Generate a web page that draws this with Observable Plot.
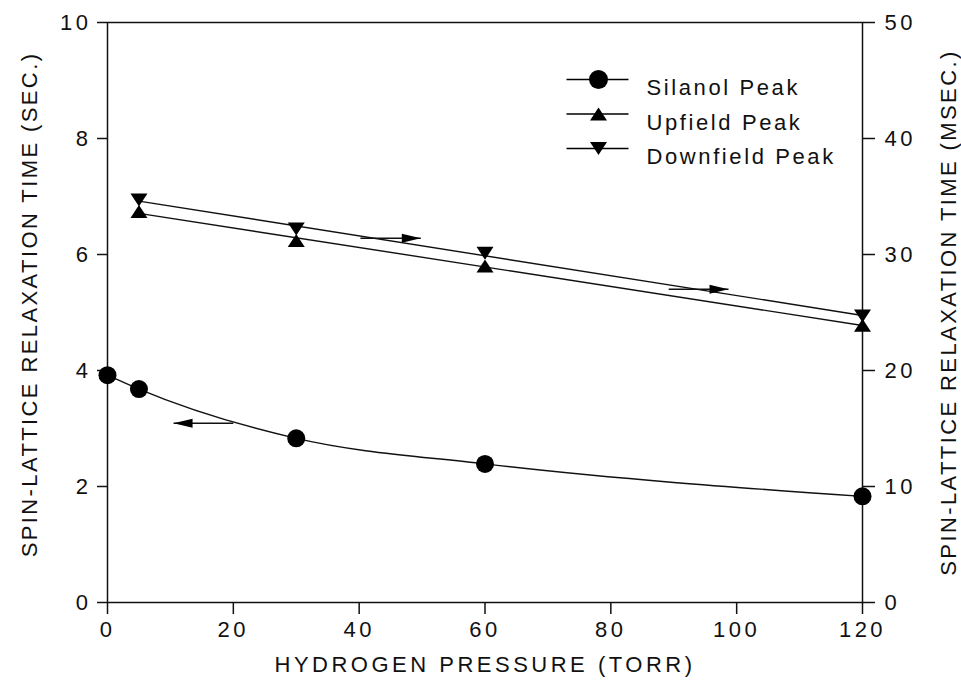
<!DOCTYPE html>
<html><head><meta charset="utf-8">
<script src="https://cdn.jsdelivr.net/npm/d3@7"></script>
<script src="https://cdn.jsdelivr.net/npm/@observablehq/plot@0.6"></script>
<style>
body{margin:0;background:#fff;}
#chart svg{font-family:"Liberation Sans",Arial,sans-serif;}
#chart svg text{letter-spacing:3.5px;}
#chart svg g.legend-text text{letter-spacing:2.6px;}
#chart svg g.ylab text{letter-spacing:2.4px;}
</style></head><body><div id="chart"></div>
<script>
// ---- data ----
const pressure = [0, 5, 30, 60, 120];              // Torr (silanol)
const silanolSec = [3.92, 3.68, 2.83, 2.39, 1.83];  // sec, left axis
const triPressure = [5, 30, 60, 120];               // Torr (upfield/downfield)
const upfieldMs = [33.7, 31.2, 29.0, 23.9];         // msec, right axis
const downfieldMs = [34.7, 32.2, 30.1, 24.7];       // msec, right axis
const xTicks = [0, 20, 40, 60, 80, 100, 120];
const leftTicks = [0, 2, 4, 6, 8, 10];
const rightTicks = [0, 10, 20, 30, 40, 50];
const legendLabels = ["Silanol Peak", "Upfield Peak", "Downfield Peak"];
const arrowX1 = [40.2, 89.2, 20.0];
const arrowX2 = [49.8, 98.7, 10.5];
const arrowY = [31.4, 27.0, 3.09];
const arrowAxis = ["right", "right", "left"];
const xLabel = "HYDROGEN PRESSURE (TORR)";
const yLabelLeft = "SPIN-LATTICE RELAXATION TIME (SEC.)";
const yLabelRight = "SPIN-LATTICE RELAXATION TIME (MSEC.)";

// ---- derived tables ----
const ratio = d3.max(rightTicks) / d3.max(leftTicks);
const silanol = pressure.map((p, i) => ({p, v: silanolSec[i]}));
const up = triPressure.map((p, i) => ({p, v: upfieldMs[i] / ratio}));
const down = triPressure.map((p, i) => ({p, v: downfieldMs[i] / ratio}));
const arrows = arrowX1.map((x1, i) => ({
  x1, x2: arrowX2[i],
  y: arrowAxis[i] === "right" ? arrowY[i] / ratio : arrowY[i],
  dir: arrowX2[i] > x1 ? 90 : -90
}));

// ---- custom symbols ----
const triUp = {draw(c) { c.moveTo(0, -6.5); c.lineTo(8.5, 6.5); c.lineTo(-8.5, 6.5); c.closePath(); }};
const triDown = {draw(c) { c.moveTo(0, 6.5); c.lineTo(8.5, -6.5); c.lineTo(-8.5, -6.5); c.closePath(); }};
const head = {draw(c) { c.moveTo(0, 0); c.lineTo(4.5, 19); c.lineTo(-4.5, 19); c.closePath(); }};
const hline = {draw(c) { c.moveTo(-31, 0); c.lineTo(31, 0); }};
const legendSymbols = ["circle", triUp, triDown];

const legendMarks = legendLabels.flatMap((label, i) => {
  const dy = 57 + i * 34.5;
  const marks = [
    Plot.dot([label], {frameAnchor: "top-left", dx: 490, dy, symbol: hline, fill: "none", stroke: "black", strokeWidth: 1.4}),
  ];
  if (i === 0) marks.push(Plot.dot([label], {frameAnchor: "top-left", dx: 491, dy, r: 9.5, fill: "black", symbol: "circle"}));
  else marks.push(Plot.dot([label], {frameAnchor: "top-left", dx: 491, dy, fill: "black", symbol: legendSymbols[i]}));
  marks.push(Plot.text([label], {frameAnchor: "top-left", dx: 539, dy, text: d => d, textAnchor: "start", fontSize: 22, fill: "#111", className: "legend-text"}));
  return marks;
});

const chart = Plot.plot({
  width: 961, height: 684,
  marginLeft: 107, marginRight: 99, marginTop: 22, marginBottom: 82,
  style: {fontSize: "22px", color: "#111", background: "#fff"},
  x: {domain: [0, 120]},
  y: {domain: [0, 10]},
  marks: [
    Plot.frame({strokeWidth: 1.5}),
    Plot.axisX({ticks: xTicks, tickSize: 12, tickPadding: 7, label: null, strokeWidth: 1.5, fontSize: 22}),
    Plot.axisY({ticks: leftTicks, tickSize: 10, tickPadding: 6, label: null, strokeWidth: 1.5, fontSize: 22}),
    Plot.axisY({anchor: "right", ticks: rightTicks.map(v => v / ratio), tickFormat: v => Math.round(v * ratio),
      tickSize: 12, tickPadding: 10, label: null, strokeWidth: 1.5, fontSize: 22}),
    Plot.text([xLabel], {frameAnchor: "bottom", dy: 62, lineAnchor: "middle", text: d => d, fontSize: 22, textAnchor: "middle"}),
    Plot.text([yLabelLeft], {frameAnchor: "left", dx: -78, dy: -8, rotate: -90, text: d => d, fontSize: 22, textAnchor: "middle", className: "ylab"}),
    Plot.text([yLabelRight], {frameAnchor: "right", dx: 86, rotate: -90, text: d => d, fontSize: 22, textAnchor: "middle", className: "ylab"}),
    Plot.line(silanol, {x: "p", y: "v", curve: "monotone-x", strokeWidth: 1.4}),
    Plot.linearRegressionY(up, {x: "p", y: "v", ci: 0, strokeWidth: 1.4}),
    Plot.linearRegressionY(down, {x: "p", y: "v", ci: 0, strokeWidth: 1.4}),
    Plot.dot(silanol, {x: "p", y: "v", r: 9, fill: "black", symbol: "circle"}),
    Plot.dot(up, {x: "p", y: "v", fill: "black", symbol: triUp}),
    Plot.dot(down, {x: "p", y: "v", fill: "black", symbol: triDown}),
    Plot.link(arrows, {x1: "x1", x2: "x2", y1: "y", y2: "y", strokeWidth: 1.4}),
    Plot.dot(arrows, {x: "x2", y: "y", symbol: head, rotate: "dir", fill: "black"}),
    ...legendMarks
  ]
});
document.getElementById("chart").appendChild(chart);
</script></body></html>
